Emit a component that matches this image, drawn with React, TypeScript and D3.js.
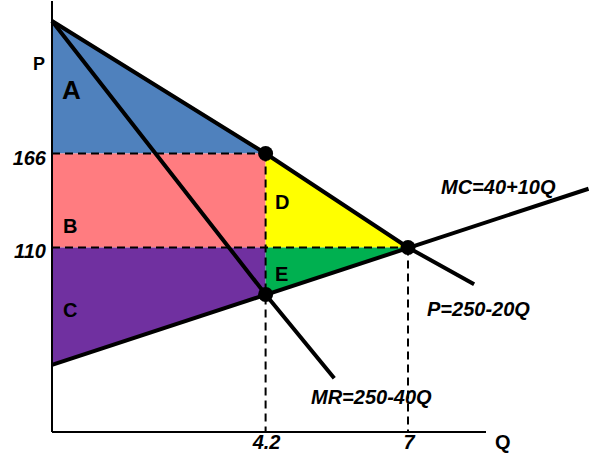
import React from 'react'
import * as d3 from 'd3'

// curves as [Q, P]
const demandPts: [number, number][] = [[0, 245], [4.2, 166], [7, 110], [8.3, 88]]
const mrPts: [number, number][] = [[0, 245], [4.2, 82], [5.55, 32]]
const mcPts: [number, number][] = [[0, 40], [10.55, 145]]

// shaded areas
const areaNames = ['A', 'B', 'C', 'D', 'E']
const areaColors = ['#4f81bd', '#ff7c80', '#7030a0', '#ffff00', '#00b050']
const areaPolys: [number, number][][] = [
  [[0, 245], [4.2, 166], [0, 166]],
  [[0, 166], [4.2, 166], [4.2, 110], [0, 110]],
  [[0, 110], [4.2, 110], [4.2, 82], [0, 40]],
  [[4.2, 166], [7, 110], [4.2, 110]],
  [[4.2, 110], [7, 110], [4.2, 82]],
]

// key points (dots) and tick labels
const dots: [number, number][] = [[4.2, 166], [7, 110], [4.2, 82]]
const priceTicks = [166, 110]
const priceTickQ = [4.2, 7]
const qTicks = [4.2, 7]
const qTickP = [166, 110]

const curveLabels = ['MC=40+10Q', 'P=250-20Q', 'MR=250-40Q']

export default function App() {
  const width = 600
  const height = 459
  const x = d3.scaleLinear().domain([0, 7]).range([52, 408])
  const y = d3.scaleLinear().domain([0, 166]).range([432, 153.5])
  const line = d3
    .line<[number, number]>()
    .x((d) => x(d[0]))
    .y((d) => y(d[1]))

  const font = 'Arial, "Liberation Sans", sans-serif'
  const dash = '8,5'

  return (
    <svg
      width={width}
      height={height}
      style={{ position: 'absolute', left: 0, top: 0, background: '#fff' }}
      fontFamily={font}
      fontWeight="bold"
    >
      {areaPolys.map((p, i) => (
        <path key={areaNames[i]} d={line(p) + 'Z'} fill={areaColors[i]} />
      ))}

      {/* dashed guides */}
      {priceTicks.map((p, i) => (
        <line
          key={'h' + p}
          x1={x(0)}
          x2={x(priceTickQ[i])}
          y1={y(p)}
          y2={y(p)}
          stroke="#000"
          strokeWidth={2}
          strokeDasharray={dash}
        />
      ))}
      {qTicks.map((q, i) => (
        <line
          key={'v' + q}
          x1={x(q)}
          x2={x(q)}
          y1={y(qTickP[i])}
          y2={y(0)}
          stroke="#000"
          strokeWidth={2}
          strokeDasharray={dash}
        />
      ))}

      {[demandPts, mrPts, mcPts].map((pts, i) => (
        <path key={i} d={line(pts) ?? ''} fill="none" stroke="#000" strokeWidth={4} strokeLinecap="butt" />
      ))}

      {/* axes */}
      <line x1={x(0)} x2={x(0)} y1={1} y2={y(0)} stroke="#000" strokeWidth={2} />
      <line x1={x(0)} x2={486} y1={y(0)} y2={y(0)} stroke="#000" strokeWidth={2} />

      {dots.map(([q, p], i) => (
        <circle key={i} cx={x(q)} cy={y(p)} r={7.5} fill="#000" />
      ))}

      {/* labels */}
      <text x={39} y={70} fontSize={18} textAnchor="middle">P</text>
      <text x={495} y={449} fontSize={20}>Q</text>
      <text x={62} y={99} fontSize={26}>{areaNames[0]}</text>
      <text x={63} y={233} fontSize={20}>{areaNames[1]}</text>
      <text x={63} y={317} fontSize={20}>{areaNames[2]}</text>
      <text x={275} y={209} fontSize={20}>{areaNames[3]}</text>
      <text x={275} y={281} fontSize={20}>{areaNames[4]}</text>

      {priceTicks.map((p) => (
        <text key={p} x={46} y={y(p) + 11} fontSize={20} fontStyle="italic" textAnchor="end">
          {p}
        </text>
      ))}
      {qTicks.map((q) => (
        <text key={q} x={x(q) + 1} y={449} fontSize={20} fontStyle="italic" textAnchor="middle">
          {q}
        </text>
      ))}

      <text x={441} y={194} fontSize={20} fontStyle="italic">{curveLabels[0]}</text>
      <text x={427} y={316} fontSize={20} fontStyle="italic">{curveLabels[1]}</text>
      <text x={311} y={404} fontSize={20} fontStyle="italic">{curveLabels[2]}</text>
    </svg>
  )
}
